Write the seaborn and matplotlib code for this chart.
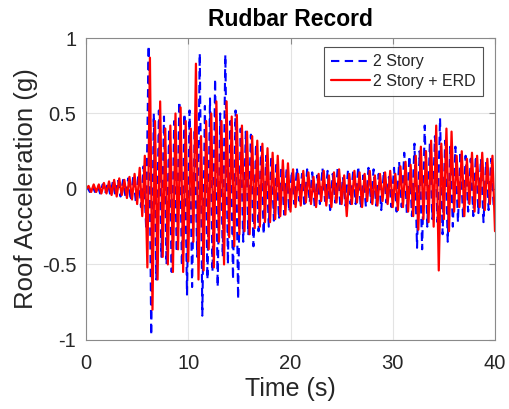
import numpy as np
import pandas as pd
import matplotlib
matplotlib.use("Agg")
import matplotlib.pyplot as plt
import seaborn as sns

# ---- data (local extrema) ----
red_time = np.arange(0, 40.001, 0.25)
red_vals = [
    0.00, 0.02, -0.02, 0.03, -0.02, 0.03, -0.03, 0.04,
    -0.03, 0.05, -0.04, 0.06, -0.05, 0.07, -0.04, 0.06,
    -0.06, 0.08, -0.07, 0.10, -0.10, 0.14, -0.18, 0.22,
    -0.52, 0.87, -0.80, 0.45, -0.60, 0.58, -0.45, 0.40,
    -0.50, 0.42, -0.55, 0.50, -0.40, 0.54, -0.55, 0.45,
    -0.48, 0.40, -0.35, 0.83, -0.60, 0.35, -0.54, 0.45,
    -0.40, 0.50, -0.52, 0.58, -0.35, 0.45, -0.50, 0.58,
    -0.32, 0.48, -0.38, 0.49, -0.30, 0.42, -0.28, 0.38,
    -0.30, 0.35, -0.26, 0.32, -0.25, 0.30, -0.22, 0.27,
    -0.22, 0.24, -0.20, 0.22, -0.18, 0.19, -0.17, 0.17,
    -0.15, 0.13, -0.12, 0.10, -0.11, 0.12, -0.09, 0.11,
    -0.10, 0.08, -0.12, 0.10, -0.08, 0.12, -0.11, 0.09,
    -0.12, 0.11, -0.09, 0.13, -0.10, 0.09, -0.18, 0.10,
    -0.10, 0.12, -0.09, 0.11, -0.12, 0.10, -0.08, 0.12,
    -0.10, 0.09, -0.11, 0.10, -0.08, 0.11, -0.10, 0.12,
    -0.12, 0.10, -0.14, 0.15, -0.12, 0.18, -0.15, 0.16,
    -0.18, 0.22, -0.27, 0.28, -0.20, 0.25, -0.22, 0.32,
    -0.25, 0.42, -0.54, 0.30, -0.20, 0.40, -0.28, 0.38,
    -0.15, 0.22, -0.12, 0.25, -0.18, 0.20, -0.10, 0.24,
    -0.15, 0.22, -0.12, 0.24, -0.14, 0.20, -0.10, 0.22,
    -0.28,
]

blue_time = np.arange(0.125, 40.0, 0.25)
blue_vals = [
    0.01, -0.02, 0.02, -0.02, 0.03, -0.03, 0.03, -0.03,
    0.04, -0.04, 0.05, -0.05, 0.06, -0.05, 0.06, -0.06,
    0.07, -0.08, 0.09, -0.09, 0.10, -0.12, 0.15, -0.25,
    0.95, -0.97, 0.50, -0.60, 0.52, -0.45, 0.48, -0.50,
    0.40, -0.55, 0.45, -0.42, 0.58, -0.51, 0.50, -0.70,
    0.52, -0.65, 0.40, -0.45, 0.90, -0.84, 0.55, -0.60,
    0.60, -0.55, 0.73, -0.65, 0.50, -0.45, 0.89, -0.50,
    0.45, -0.60, 0.52, -0.73, 0.40, -0.35, 0.38, -0.30,
    0.36, -0.38, 0.30, -0.28, 0.28, -0.30, 0.22, -0.25,
    0.22, -0.21, 0.18, -0.20, 0.15, -0.17, 0.14, -0.15,
    0.12, -0.10, 0.14, -0.08, 0.10, -0.12, 0.13, -0.09,
    0.11, -0.13, 0.09, -0.10, 0.14, -0.08, 0.12, -0.14,
    0.10, -0.09, 0.15, -0.12, 0.08, -0.11, 0.13, -0.10,
    0.12, -0.10, 0.15, -0.13, 0.09, -0.12, 0.14, -0.09,
    0.13, -0.11, 0.10, -0.14, 0.12, -0.09, 0.08, -0.12,
    0.14, -0.15, 0.18, -0.12, 0.24, -0.16, 0.22, -0.18,
    0.30, -0.39, 0.25, -0.40, 0.42, -0.25, 0.30, -0.20,
    0.35, -0.22, 0.47, -0.30, 0.32, -0.35, 0.28, -0.25,
    0.28, -0.22, 0.25, -0.20, 0.22, -0.15, 0.20, -0.18,
    0.22, -0.16, 0.20, -0.22, 0.18, -0.14, 0.20, -0.12,
]

series_names = ["2 Story", "2 Story + ERD"]
x_ticks = [0, 10, 20, 30, 40]
y_ticks = [-1, -0.5, 0, 0.5, 1]
y_tick_labels = ["-1", "-0.5", "0", "0.5", "1"]

# ---- styling ----
sns.set_style("white")
plt.rcParams["font.family"] = ["Liberation Sans", "DejaVu Sans"]

fig = plt.figure(figsize=(5.09, 4.09), dpi=100)
ax = fig.add_axes([0.169, 0.169, 0.8035, 0.738])

df_blue = pd.DataFrame({"t": blue_time, "a": blue_vals})
df_red = pd.DataFrame({"t": red_time, "a": red_vals})

sns.lineplot(data=df_blue, x="t", y="a", ax=ax, color="#0000ff",
             linewidth=1.5, label=series_names[0], estimator=None, sort=False)
ax.lines[-1].set_dashes((4, 2.6))
sns.lineplot(data=df_red, x="t", y="a", ax=ax, color="#ff0000",
             linewidth=1.6, label=series_names[1], estimator=None, sort=False)

ax.set_xlim(0, 40)
ax.set_ylim(-1, 1)
ax.set_xticks(x_ticks)
ax.set_yticks(y_ticks)
ax.set_yticklabels(y_tick_labels)
ax.grid(True, color="#e3e3e3", linewidth=0.8)
ax.set_axisbelow(True)
for s in ax.spines.values():
    s.set_color("#8a8a8a")
    s.set_linewidth(0.8)
ax.tick_params(direction="in", length=4, color="#8a8a8a", labelsize=14.5,
               labelcolor="#262626", top=True, right=True)
ax.tick_params(axis="y", pad=7)
ax.tick_params(axis="x", pad=10)

ax.set_xlabel("Time (s)", fontsize=18, color="#262626", labelpad=3)
ax.set_ylabel("Roof Acceleration (g)", fontsize=18.5, color="#262626", labelpad=3)
ax.set_title("Rudbar Record", fontsize=16.5, fontweight="bold", color="#000000", pad=9)

leg = ax.legend(loc="upper right", fontsize=11.5, handlelength=2.4,
                frameon=True, fancybox=False, borderpad=0.45,
                labelspacing=0.3, handletextpad=0.2, borderaxespad=0.0,
                bbox_to_anchor=(0.97, 0.97))
leg.get_frame().set_edgecolor("#262626")
leg.get_frame().set_linewidth(0.8)

fig.savefig("out.png", dpi=100)
